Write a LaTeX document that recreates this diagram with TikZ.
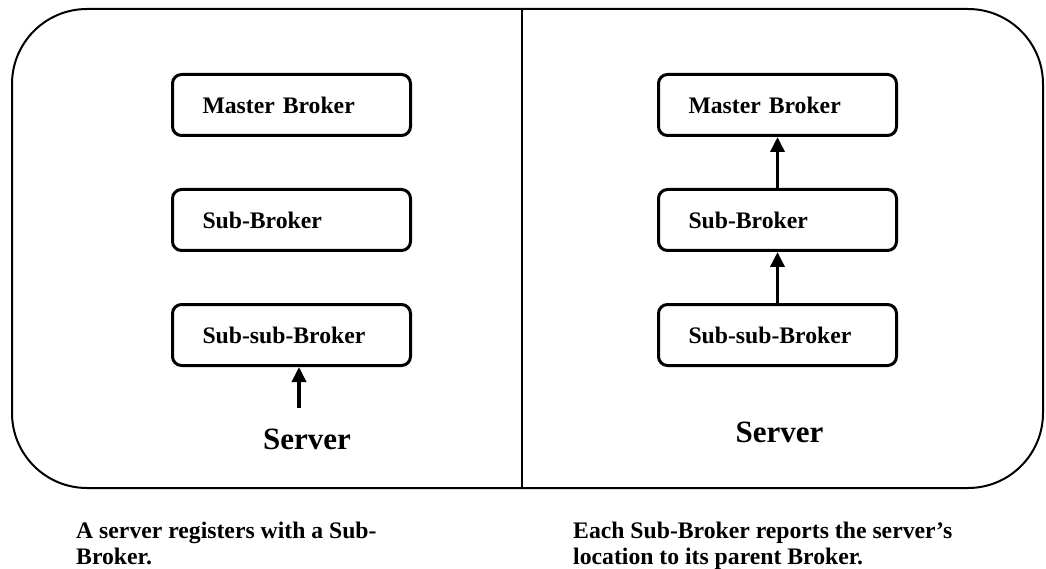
\documentclass[tikz,border=0pt]{standalone}
\usepackage{fontspec}
\setmainfont{Liberation Serif}
\usepackage{tikz}
\usetikzlibrary{arrows.meta, positioning}

\begin{document}
\begin{tikzpicture}[
    x=1pt, y=-1pt,
    font=\bfseries\fontsize{23.7}{25.5}\selectfont,
    broker/.style={
        draw,
        line width=3pt,
        rounded corners=9pt,
        minimum width=238pt,
        minimum height=61pt,
        inner xsep=30pt,
        text width=178pt,
        align=left
    },
    server/.style={font=\bfseries\fontsize{31}{34}\selectfont, inner sep=0pt},
    caption/.style={anchor=base west, align=left, inner sep=0pt},
    arrow/.style={-{Triangle[length=15pt, width=14pt]}, line width=3.5pt}
]
\useasboundingbox (0,0) rectangle (1046,569);

% frame and divider
\draw[line width=2pt, rounded corners=75pt] (12,9) rectangle (1043,488);
\draw[line width=1.5pt] (522,9) -- (522,488);

% left panel: registration
\node[broker] (mbL) at (291.5,105) {Master Broker};
\node[broker, below=51pt of mbL] (sbL) {Sub-Broker};
\node[broker, below=51pt of sbL] (ssbL) {Sub-sub-Broker};
\node[server] (srvL) at (307,439) {Server};
\coordinate (regL) at (299,408);
\draw[arrow] (regL) -- (regL |- ssbL.south);

% right panel: reporting upward
\node[broker] (mbR) at (777.5,105) {Master Broker};
\node[broker, below=51pt of mbR] (sbR) {Sub-Broker};
\node[broker, below=51pt of sbR] (ssbR) {Sub-sub-Broker};
\node[server] (srvR) at (779.5,432) {Server};
\draw[arrow] (ssbR.north) -- (sbR.south);
\draw[arrow] (sbR.north) -- (mbR.south);

% captions (base = last line)
\node[caption] (capL) at (76,564) {A server registers with a Sub-\\Broker.};
\node[caption] (capR) at (573,564) {Each Sub-Broker reports the server’s\\location to its parent Broker.};

\end{tikzpicture}
\end{document}
